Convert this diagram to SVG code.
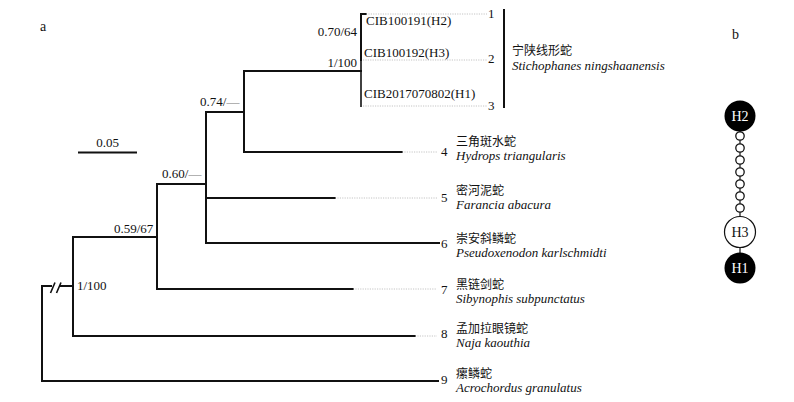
<svg xmlns="http://www.w3.org/2000/svg" width="794" height="402" viewBox="0 0 794 402">
<style>
.t{font-family:"Liberation Serif","Noto Sans CJK SC",serif;font-size:13px;fill:#111}
.cn{font-family:"Liberation Serif","Noto Sans CJK SC",serif;font-size:12px;fill:#111}
.it{font-style:italic}
.br{stroke:#111;stroke-width:2;fill:none;stroke-linecap:square}
.dot{stroke:#c4c4c4;stroke-width:1;stroke-dasharray:1.2 1.2;fill:none}
.hap{font-family:"Liberation Serif",serif;font-size:14px;text-anchor:middle}
</style>
<rect width="794" height="402" fill="#fff"/>
<text class="t" x="40" y="31" style="font-size:14px">a</text>
<text class="t" x="732" y="39" style="font-size:14px">b</text>

<g id="connectors">
  <path class="br" d="M361,14 V60 M361,14 H366"/>
  <path d="M361,37 V107" stroke="#111" stroke-width="1.6" fill="none"/>
  <path class="br" d="M244,71 H361"/>
  <path class="dot" d="M366,14 H487 M363,60 H487 M363,106 H487"/>
  <path class="br" d="M504,10 V107"/>
  <path class="br" d="M244,71 V152 H402 M206,112 H244"/>
  <path class="dot" d="M402,152 H437"/>
  <path class="br" d="M206,112 V243 H439 M206,198 H335 M157,184 H206"/>
  <path class="dot" d="M335,198 H437"/>
  <path class="br" d="M157,184 V289 H353 M73,237 H157"/>
  <path class="dot" d="M353,289 H437"/>
  <path class="br" d="M73,237 V336 H415"/>
  <path class="dot" d="M415,336 H437"/>
  <path class="br" d="M60,286 H73 M51,286 H42 V381 H438"/>
  <path d="M50.5,293 L55,282.5 M56.5,293 L61,282.5" stroke="#111" stroke-width="1.6" fill="none"/>
  <path class="br" d="M79,152.5 H136"/>
</g>

<g id="support-labels">
  <text class="t" x="357" y="36" text-anchor="end">0.70/64</text>
  <text class="t" x="357" y="67" text-anchor="end">1/100</text>
  <text class="t" x="200" y="106">0.74/<tspan fill="#777">—</tspan></text>
  <text class="t" x="162" y="178">0.60/<tspan fill="#777">—</tspan></text>
  <text class="t" x="114" y="233">0.59/67</text>
  <text class="t" x="77" y="290">1/100</text>
  <text class="t" x="107.5" y="147" text-anchor="middle">0.05</text>
</g>

<g id="taxon-1-3">
  <text class="t" x="366" y="25">CIB100191(H2)</text>
  <text class="t" x="364" y="57">CIB100192(H3)</text>
  <text class="t" x="364" y="98">CIB2017070802(H1)</text>
  <text class="t" x="488" y="18">1</text>
  <text class="t" x="488" y="63">2</text>
  <text class="t" x="488" y="110">3</text>
  <text class="cn" x="512" y="55">宁陕线形蛇</text>
  <text class="t it" x="512" y="70">Stichophanes ningshaanensis</text>
</g>
<g id="taxon-4">
  <text class="t" x="441" y="156">4</text>
  <text class="cn" x="456" y="145.5">三角斑水蛇</text>
  <text class="t it" x="456" y="159.5">Hydrops triangularis</text>
</g>
<g id="taxon-5">
  <text class="t" x="441" y="202">5</text>
  <text class="cn" x="456" y="194.5">密河泥蛇</text>
  <text class="t it" x="456" y="208.5">Farancia abacura</text>
</g>
<g id="taxon-6">
  <text class="t" x="441" y="248">6</text>
  <text class="cn" x="456" y="242.5">崇安斜鳞蛇</text>
  <text class="t it" x="456" y="256.5">Pseudoxenodon karlschmidti</text>
</g>
<g id="taxon-7">
  <text class="t" x="441" y="294">7</text>
  <text class="cn" x="456" y="288.5">黑链剑蛇</text>
  <text class="t it" x="456" y="302.5">Sibynophis subpunctatus</text>
</g>
<g id="taxon-8">
  <text class="t" x="441" y="338">8</text>
  <text class="cn" x="456" y="332.5">孟加拉眼镜蛇</text>
  <text class="t it" x="456" y="346.5">Naja kaouthia</text>
</g>
<g id="taxon-9">
  <text class="t" x="441" y="384">9</text>
  <text class="cn" x="456" y="377.5">瘰鳞蛇</text>
  <text class="t it" x="456" y="392">Acrochordus granulatus</text>
</g>

<g id="network-links">
  <path d="M740,131 V217 M740,247 V253" stroke="#111" stroke-width="1.2" fill="none"/>
</g>
<g id="mutation-steps" fill="#fff" stroke="#111" stroke-width="1.3">
  <circle cx="740" cy="136" r="4.2"/>
  <circle cx="740" cy="148" r="4.2"/>
  <circle cx="740" cy="160" r="4.2"/>
  <circle cx="740" cy="172" r="4.2"/>
  <circle cx="740" cy="184" r="4.2"/>
  <circle cx="740" cy="196" r="4.2"/>
  <circle cx="740" cy="208" r="4.2"/>
</g>
<g id="H2">
  <circle cx="740" cy="116" r="15.5" fill="#000"/>
  <text class="hap" x="740" y="121" fill="#fff">H2</text>
</g>
<g id="H3">
  <circle cx="740" cy="232" r="15.5" fill="#fff" stroke="#111" stroke-width="1.2"/>
  <text class="hap" x="740" y="237" fill="#111">H3</text>
</g>
<g id="H1">
  <circle cx="740" cy="268" r="15.5" fill="#000"/>
  <text class="hap" x="740" y="273" fill="#fff">H1</text>
</g>
</svg>
